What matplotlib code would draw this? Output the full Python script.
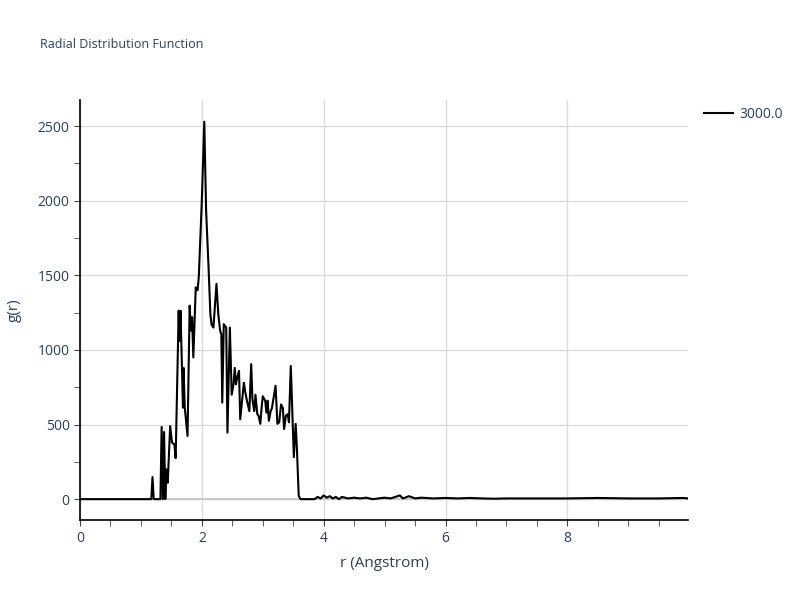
import matplotlib
matplotlib.use("Agg")
import matplotlib.pyplot as plt
from matplotlib.ticker import MultipleLocator

plt.rcParams["font.family"] = ["Open Sans", "DejaVu Sans"]

# radial distribution data (r in Angstrom, g(r))
r = [0.0, 1.15, 1.17, 1.19, 1.21, 1.23, 1.30, 1.32, 1.34, 1.36, 1.38, 1.40,
     1.42, 1.44, 1.46, 1.48, 1.51, 1.55, 1.57, 1.58, 1.62, 1.63, 1.65, 1.69,
     1.70, 1.72, 1.765, 1.80, 1.82, 1.84, 1.86, 1.90, 1.93, 1.95, 2.00, 2.04,
     2.07, 2.11, 2.14, 2.16, 2.19, 2.24, 2.27, 2.30, 2.32, 2.335, 2.36, 2.40,
     2.42, 2.46, 2.49, 2.52, 2.54, 2.56, 2.58, 2.61, 2.63, 2.66, 2.69, 2.71,
     2.74, 2.78, 2.81, 2.83, 2.86, 2.88, 2.91, 2.93, 2.96, 2.98, 3.00, 3.04,
     3.06, 3.08, 3.10, 3.13, 3.15, 3.21, 3.24, 3.27, 3.30, 3.33, 3.35, 3.38,
     3.41, 3.43, 3.46, 3.49, 3.51, 3.54, 3.56, 3.59, 3.62, 3.85, 3.90, 3.95,
     4.00, 4.05, 4.10, 4.15, 4.20, 4.25, 4.30, 4.40, 4.50, 4.60, 4.70, 4.80,
     5.00, 5.10, 5.25, 5.30, 5.40, 5.50, 5.60, 5.80, 6.00, 6.20, 6.40, 6.60,
     6.80, 7.00, 8.00, 8.50, 9.00, 9.50, 9.90, 9.98]
g = [0, 0, 0, 148, 0, 0, 0, 0, 484, 0, 450, 0,
     200, 110, 300, 490, 380, 365, 275, 470, 1263, 1060, 1263, 613,
     880, 613, 423, 1297, 1130, 1220, 950, 1420, 1400, 1490, 2003, 2530,
     1935, 1555, 1240, 1170, 1150, 1443, 1240, 1130, 1105, 647, 1173, 1150,
     446, 1150, 700, 770, 880, 770, 815, 860, 535, 660, 780, 725,
     660, 590, 905, 670, 590, 700, 570, 560, 505, 610, 690, 660,
     580, 660, 525, 590, 610, 760, 505, 515, 635, 610, 470, 560,
     570, 515, 893, 525, 282, 505, 345, 22, 0, 0, 15, 5,
     25, 10, 20, 5, 15, 0, 15, 5, 10, 5, 10, 0,
     10, 5, 25, 5, 20, 5, 10, 5, 8, 5, 8, 5,
     3, 5, 5, 8, 5, 5, 8, 5]

label_col = "#2a3f5f"
grid_col = "#dcdcdc"

fig = plt.figure(figsize=(8, 6), dpi=100)
ax = fig.add_axes([0.1, 0.133, 0.76, 0.7])

ax.plot(r, g, color="black", linewidth=1.5, label="3000.0", zorder=3)

ax.set_xlim(0, 9.98)
ax.set_ylim(-141, 2674)
ax.xaxis.set_major_locator(MultipleLocator(2))
ax.xaxis.set_minor_locator(MultipleLocator(0.5))
ax.yaxis.set_major_locator(MultipleLocator(500))
ax.yaxis.set_minor_locator(MultipleLocator(250))
ax.grid(True, which="major", color=grid_col, linewidth=1)
ax.axhline(0, color="#c8c8c8", linewidth=1.5, zorder=1)
ax.set_axisbelow(True)

for side in ["top", "right"]:
    ax.spines[side].set_visible(False)
for side in ["left", "bottom"]:
    ax.spines[side].set_color("black")
    ax.spines[side].set_linewidth(1.2)

ax.tick_params(which="both", direction="out", length=4, color="#444444",
               labelcolor=label_col, labelsize=10)

ax.set_xlabel("r (Angstrom)", color=label_col, fontsize=11)
ax.set_ylabel("g(r)", color=label_col, fontsize=11)
ax.xaxis.set_label_coords(0.5, -0.085)
ax.yaxis.set_label_coords(-0.095, 0.5)

fig.text(0.05, 0.925, "Radial Distribution Function", color=label_col,
         fontsize=9, va="center")

ax.legend(loc="upper left", bbox_to_anchor=(1.006, 1.013), frameon=False,
          fontsize=10, labelcolor=label_col, handlelength=2.1,
          handletextpad=0.45)

fig.savefig("out.png", dpi=100)
